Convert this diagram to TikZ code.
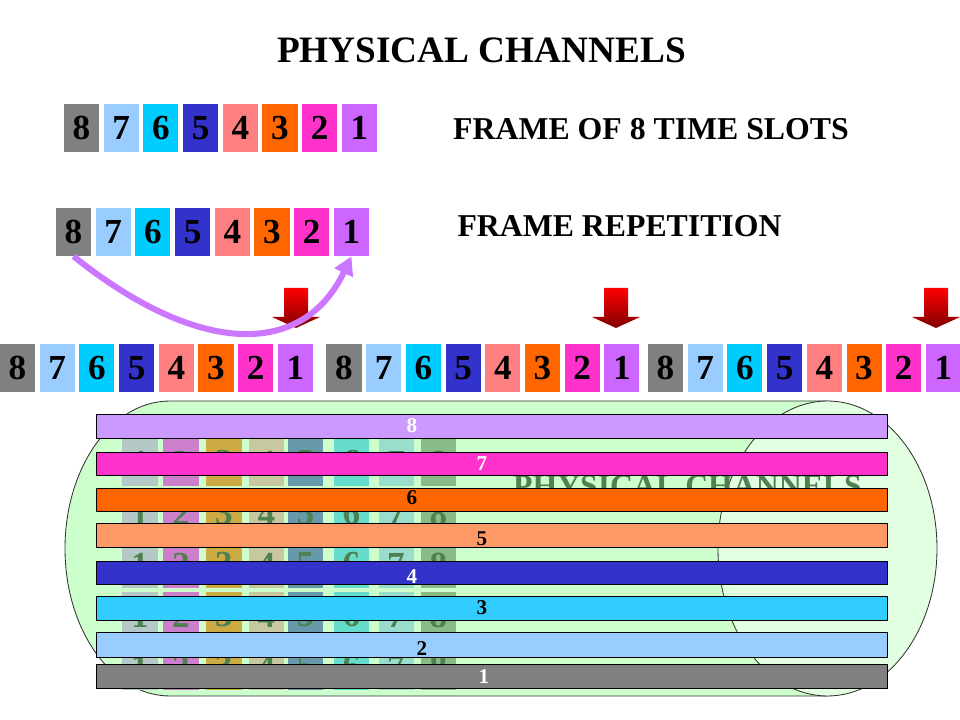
\documentclass[tikz,border=0pt]{standalone}
\usepackage{fontspec}
\setmainfont{Liberation Serif}
\usetikzlibrary{arrows.meta}

\definecolor{ts1}{HTML}{CC66FF}
\definecolor{ts2}{HTML}{FF33CC}
\definecolor{ts3}{HTML}{FF6600}
\definecolor{ts4}{HTML}{FF8080}
\definecolor{ts5}{HTML}{3333CC}
\definecolor{ts6}{HTML}{00CCFF}
\definecolor{ts7}{HTML}{99CCFF}
\definecolor{ts8}{HTML}{808080}
\definecolor{ch1}{HTML}{808080}
\definecolor{ch2}{HTML}{99CCFF}
\definecolor{ch3}{HTML}{33CCFF}
\definecolor{ch4}{HTML}{3333CC}
\definecolor{ch5}{HTML}{FF9966}
\definecolor{ch6}{HTML}{FF6600}
\definecolor{ch7}{HTML}{FF33CC}
\definecolor{ch8}{HTML}{CC99FF}
\definecolor{gc1}{HTML}{B4C8C8}
\definecolor{gc2}{HTML}{CC80CC}
\definecolor{gc3}{HTML}{CCAA44}
\definecolor{gc4}{HTML}{C8C8A0}
\definecolor{gc5}{HTML}{6699AA}
\definecolor{gc6}{HTML}{66DDCC}
\definecolor{gc7}{HTML}{99DDCC}
\definecolor{gc8}{HTML}{88BB88}
\definecolor{ghost}{HTML}{4F804F}
\definecolor{tubefill}{HTML}{CCFFCC}
\definecolor{capfill}{HTML}{E2FFE2}
\definecolor{repcol}{HTML}{CC77FF}

\newcommand\titlefont{\fontsize{26.5}{28}\selectfont\bfseries}
\newcommand\framefont{\fontsize{22.6}{24}\selectfont\bfseries}
\newcommand\slotfont{\fontsize{25}{26}\selectfont\bfseries}
\newcommand\cellfont{\fontsize{25}{26}\selectfont\bfseries}
\newcommand\chanfont{\fontsize{15}{16}\selectfont\bfseries}

\begin{document}
\begin{tikzpicture}[x=0.025cm,y=-0.025cm,
    slot/.style={minimum width=0.875cm,minimum height=1.2cm,inner sep=0pt,font=\slotfont},
    cell/.style={minimum width=0.875cm,minimum height=1.175cm,inner sep=0pt,text=ghost,font=\cellfont},
    chan/.style={draw=black,line width=0.6pt}]
  \useasboundingbox (0,0) rectangle (960,720);

  % Titles
  \node[font=\titlefont] (title) at (481.5,50) {PHYSICAL CHANNELS};
  \node[font=\framefont] (frame) at (651,129) {FRAME OF 8 TIME SLOTS};
  \node[font=\framefont] (repeat) at (619.5,226) {FRAME REPETITION};

  % Cylinder
  \filldraw[fill=tubefill,draw=black!80,line width=0.6pt] (828,401) -- (170,401)
    arc[start angle=-90,end angle=-270,x radius=105,y radius=147.5] -- (828,696) -- cycle;
  \filldraw[fill=capfill,draw=black!80,line width=0.6pt] (827.5,548.5)
    ellipse[x radius=109.5,y radius=147.5];

  % Faded slots behind the channels
  \foreach \cx [count=\i] in {140,181,224,266.5,305.5,351.5,396,438.5}
    \foreach \r in {0,...,4}
      \node[cell,fill=gc\i] (cell\i\r) at (\cx,{462.5+51*\r}) {\i};
  \node[font=\framefont,text=ghost] (ghost) at (687.5,486) {PHYSICAL CHANNELS};

  % Channels
  \foreach \n/\ya/\yb/\lx/\ly/\tc in {8/414/438/412/426/white,7/452/475/482/464/white,
      6/488/511/412/498/black,5/523/547/482/539/black,4/561/584/412/577/white,
      3/596/620/482/608/black,2/632/657/422/649/black,1/664/688/484/677/white}{
    \filldraw[chan,fill=ch\n] (96,\ya) rectangle (887,\yb);
    \node[font=\chanfont,text=\tc] (ch\n) at (\lx,\ly) {\n};
  }

  % Frames
  \foreach \n [count=\k from 0] in {8,...,1}{
    \node[slot,fill=ts\n] (a\n) at ({81.5+39.7*\k},128) {\n};
    \node[slot,fill=ts\n] (b\n) at ({73.5+39.7*\k},232) {\n};
  }
  \foreach \g/\gx in {1/17.5,2/344,3/665.5}
    \foreach \n [count=\k from 0] in {8,...,1}
      \node[slot,fill=ts\n] (c\g\n) at ({\gx+39.7*\k},368) {\n};

  % Frame boundaries
  \foreach \ax in {296,616,936}
    \shade[top color=red,bottom color=red!50!black] (\ax-12,288) -- (\ax+12,288)
      -- (\ax+12,317) -- (\ax+24,317) -- (\ax,328) -- (\ax-24,317) -- (\ax-12,317) -- cycle;

  \draw[draw=repcol,line width=4.3pt,-{Triangle[length=13pt,width=14pt]}] (b8.south)
    .. controls +(126,101) and +(-48,101) .. (b1.south);
\end{tikzpicture}
\end{document}
